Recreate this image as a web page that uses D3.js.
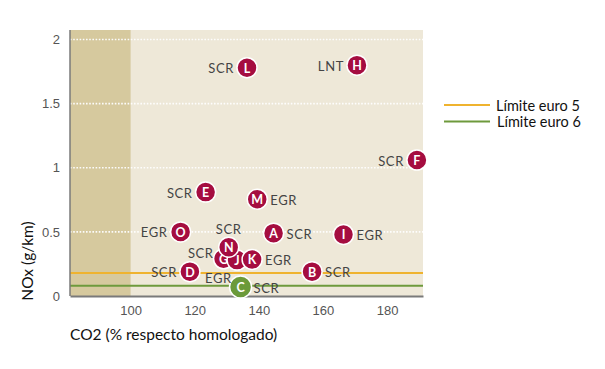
<!DOCTYPE html>
<html><head><meta charset="utf-8">
<script src="https://cdn.jsdelivr.net/npm/d3@7"></script>
<style>
body{margin:0;background:#fff;}
svg{display:block;font-family:Lato, "Open Sans", sans-serif;}
</style></head>
<body><svg id="c" width="605" height="369"></svg>
<script>
// Data
const ids      = ["L","H","F","E","M","O","A","I","G","J","K","N","D","B","C"];
const co2      = [136.3,170.6,189.3,123.4,139.5,115.6,144.6,166.4,129.0,133.2,137.9,130.6,118.5,156.6,134.3];
const nox      = [1.78,1.80,1.06,0.81,0.755,0.50,0.49,0.48,0.29,0.28,0.285,0.38,0.19,0.19,0.07];
const tech     = ["SCR","LNT","SCR","SCR","EGR","EGR","SCR","EGR","SCR","EGR","EGR","SCR","SCR","SCR","SCR"];
const labelPos = ["l","l","l","l","r","l","r","r","lt","bl","r","t","l","r","r"];
const xTicks = [100,120,140,160,180];
const yTicks = [0,0.5,1,1.5,2];
const limits = [{name:"Límite euro 5", value:0.18, color:"#efb32f"},
                {name:"Límite euro 6", value:0.08, color:"#6e9a3c"}];
const homologated = 100;

const svg = d3.select("#c");
const x = d3.scaleLinear().domain([81.1,191.2]).range([70,423]);
const y = d3.scaleLinear().domain([0,2]).range([296,39.5]);
const yTop = 30;

// backgrounds
svg.append("rect").attr("x",x.range()[0]).attr("y",yTop)
  .attr("width",x.range()[1]-x.range()[0]).attr("height",y(0)-yTop).attr("fill","#eee8d8");
svg.append("rect").attr("x",x.range()[0]).attr("y",yTop)
  .attr("width",x(homologated)-x.range()[0]).attr("height",y(0)-yTop).attr("fill","#d6c99e");

// grid
svg.append("g").selectAll("line").data(yTicks.filter(d=>d>0)).join("line")
  .attr("x1",x.range()[0]).attr("x2",x.range()[1])
  .attr("y1",d=>y(d)).attr("y2",d=>y(d))
  .attr("stroke","#fff").attr("stroke-width",1.6).attr("stroke-dasharray","1.6,1.6").attr("opacity",0.95);

// limit lines
svg.append("g").selectAll("line").data(limits).join("line")
  .attr("x1",x.range()[0]).attr("x2",x.range()[1])
  .attr("y1",d=>y(d.value)).attr("y2",d=>y(d.value))
  .attr("stroke",d=>d.color).attr("stroke-width",2);

// axes
const xAxis = svg.append("g").attr("transform",`translate(0,${y(0)})`)
  .call(d3.axisBottom(x).tickValues(xTicks).tickSize(0).tickPadding(10));
xAxis.select(".domain").attr("stroke","#7a7a7a").attr("stroke-width",2);
xAxis.selectAll("text").attr("fill","#555").attr("font-size",13);

const yAxis = svg.append("g").attr("transform",`translate(${x.range()[0]},0)`)
  .call(d3.axisLeft(y).tickValues(yTicks).tickSize(0).tickPadding(10).tickFormat(d3.format("")));
yAxis.select(".domain").remove();
yAxis.selectAll("text").attr("fill","#555").attr("font-size",13);
svg.append("line").attr("x1",x.range()[0]).attr("x2",x.range()[0]).attr("y1",yTop).attr("y2",y(0))
  .attr("stroke","#7a7a7a").attr("stroke-width",1.5);

// axis titles
svg.append("text").attr("x",70).attr("y",340).attr("font-size",15.5).attr("fill","#111")
  .text("CO2 (% respecto homologado)");
svg.append("text").attr("transform","translate(33,261) rotate(-90)").attr("text-anchor","middle")
  .attr("font-size",15.5).attr("fill","#111").text("NOx (g/km)");

// points
const pts = ids.map((id,i)=>({id,cx:x(co2[i]),cy:y(nox[i]),t:tech[i],p:labelPos[i],green:id==="C"}));
const g = svg.append("g");
pts.forEach(d=>{
  const r = d.green?11:10;
  g.append("circle").attr("cx",d.cx).attr("cy",d.cy).attr("r",r)
    .attr("fill",d.green?"#6b9a3a":"#a50d40").attr("stroke","#fff").attr("stroke-width",1.5);
  g.append("text").attr("x",d.cx).attr("y",d.cy+0.5).attr("text-anchor","middle")
    .attr("dominant-baseline","central").attr("fill","#fff").attr("font-weight","bold")
    .attr("font-size",12.5).text(d.id);
});
pts.forEach(d=>{
  let tx=d.cx, ty=d.cy, anchor="start";
  if(d.p==="l"){tx=d.cx-13; anchor="end";}
  else if(d.p==="lt"){tx=d.cx-10; ty=d.cy-6; anchor="end";}
  else if(d.p==="r"){tx=d.cx+13;}
  else if(d.p==="t"){ty=d.cy-19; anchor="middle";}
  else if(d.p==="bl"){tx=d.cx-32; ty=d.cy+17;}
  g.append("text").attr("x",tx).attr("y",ty+0.5).attr("text-anchor",anchor)
    .attr("dominant-baseline","central").attr("fill","#444").attr("font-size",13)
    .attr("letter-spacing",0.6).text(d.t);
});

// legend
const lg = svg.append("g").selectAll("g").data(limits).join("g")
  .attr("transform",(d,i)=>`translate(444,${105+i*16.5})`);
lg.append("line").attr("x1",0).attr("x2",46).attr("stroke",d=>d.color).attr("stroke-width",2);
lg.append("text").attr("x",(d,i)=>52+i).attr("y",0).attr("dominant-baseline","central")
  .attr("font-size",14.5).attr("fill","#111").text(d=>d.name);
</script></body></html>
